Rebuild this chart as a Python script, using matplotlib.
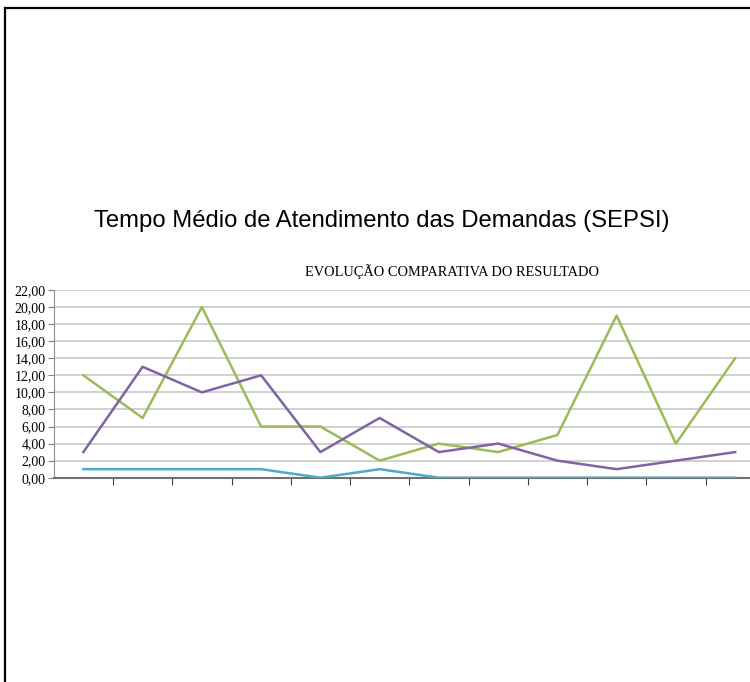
import numpy as np
import matplotlib
matplotlib.use('Agg')
import matplotlib.pyplot as plt
from matplotlib.lines import Line2D
from matplotlib.ticker import FuncFormatter

W, H = 750, 682

categorias = list(range(1, 13))
serie_verde = [12, 7, 20, 6, 6, 2, 4, 3, 5, 19, 4, 14]
serie_roxa = [3, 13, 10, 12, 3, 7, 3, 4, 2, 1, 2, 3]
serie_ciano = [1, 1, 1, 1, 0, 1, 0, 0, 0, 0, 0, 0]
y_ticks = np.arange(0, 23, 2)

titulo = 'Tempo Médio de Atendimento das Demandas (SEPSI)'
subtitulo = 'EVOLUÇÃO COMPARATIVA DO RESULTADO'

fig = plt.figure(figsize=(W / 100, H / 100), dpi=100)

# frame lines (top and left only)
fig.add_artist(Line2D([5 / W, 1], [1 - 8 / H, 1 - 8 / H], color='black', lw=1.6))
fig.add_artist(Line2D([5 / W, 5 / W], [0, 1 - 8 / H], color='black', lw=1.6))

left, right = 53.75, 764.75
bottom, top = 477.7, 290
ax = fig.add_axes([left / W, 1 - bottom / H, (right - left) / W, (bottom - top) / H])

x = np.arange(len(categorias))
ax.plot(x, serie_ciano, color='#4BACC6', lw=1.8, zorder=3)
ax.plot(x, serie_verde, color='#9BBB59', lw=1.8, zorder=4)
ax.plot(x, serie_roxa, color='#8064A2', lw=1.8, zorder=5)

ax.set_xlim(-0.5, len(categorias) - 0.5)
ax.set_ylim(0, 22)
ax.set_yticks(y_ticks)
ax.yaxis.set_major_formatter(FuncFormatter(lambda v, p: f'{v:.2f}'.replace('.', ',')))
ax.set_xticks(np.arange(0.5, len(categorias) - 0.5, 1))
ax.set_xticklabels([])
ax.tick_params(axis='x', direction='out', length=5, color='#404040')
ax.tick_params(axis='y', direction='out', length=4, color='#808080', pad=2)
for lab in ax.get_yticklabels():
    lab.set_family('Liberation Serif')
    lab.set_fontsize(10)

ax.grid(axis='y', color='#c8c8c8', lw=1.2)
ax.set_axisbelow(True)
for s in ['top', 'right']:
    ax.spines[s].set_visible(False)
ax.spines['left'].set_color('#909090')
ax.spines['bottom'].set_color('#707070')
ax.spines['bottom'].set_linewidth(1.5)

fig.text(382 / W, 1 - 221 / H, titulo, ha='center', va='center',
         family='Liberation Sans', fontsize=17.2)
fig.text(452 / W, 1 - 272 / H, subtitulo, ha='center', va='center',
         family='Liberation Serif', fontsize=10.4)

fig.savefig('out.png', dpi=100)
